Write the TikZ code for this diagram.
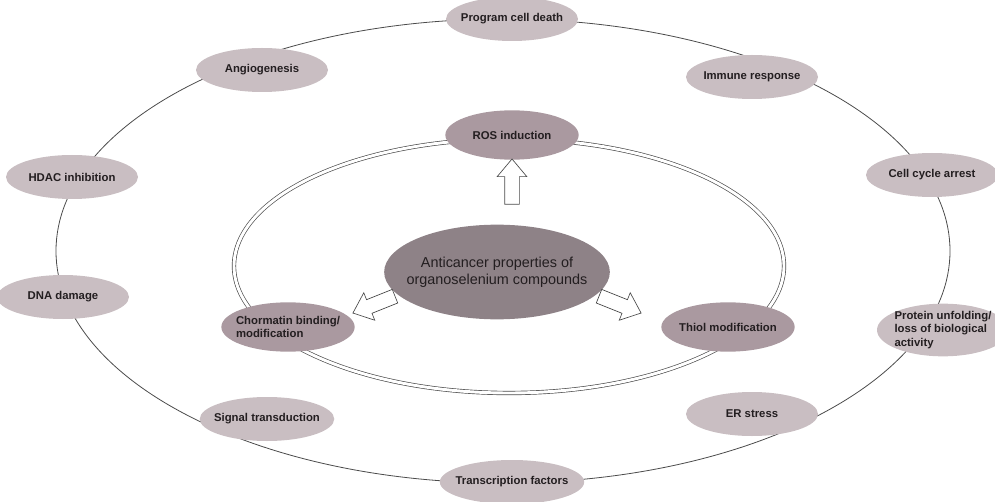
\documentclass[tikz,border=0pt]{standalone}
\usepackage{fontspec}
\setmainfont{Liberation Sans}
\usetikzlibrary{shapes.geometric,shapes.arrows}

\definecolor{outerfill}{RGB}{201,190,194}
\definecolor{innerfill}{RGB}{170,153,160}
\definecolor{corefill}{RGB}{142,130,135}
\definecolor{ringline}{RGB}{75,75,75}
\definecolor{labeltext}{RGB}{35,30,32}

\tikzset{
  outerbox/.style={ellipse, fill=outerfill, minimum width=99pt, minimum height=33pt,
    inner xsep=-4pt, inner ysep=0pt, text=labeltext, font=\bfseries\fontsize{8.5}{10}\selectfont},
  innerbox/.style={outerbox, fill=innerfill, minimum width=100pt, minimum height=37pt},
  corebox/.style={ellipse, fill=corefill, minimum width=169pt, minimum height=71pt,
    inner xsep=-8pt, inner ysep=0pt, text=labeltext, align=center, font=\fontsize{10.8}{13}\selectfont},
  blockarrow/.style={single arrow, draw=ringline, fill=white, line width=0.5pt,
    minimum height=34pt, inner sep=0pt, inner ysep=5.25pt,
    single arrow head extend=5.6pt, single arrow tip angle=80}
}

\begin{document}
\begin{tikzpicture}[x=0.75pt,y=-0.75pt]
  \useasboundingbox (0,0) rectangle (995,502);
  \draw [ringline, line width=0.6pt] (503,251) ellipse [x radius=447, y radius=232];
  \draw [ringline, line width=0.5pt, double=white, double distance=2.2pt] (509,266) ellipse [x radius=275, y radius=127];

  \node [outerbox] (pcd) at (512,19) {Program cell death};
  \node [outerbox] (angio) at (262,70) {Angiogenesis};
  \node [outerbox] (immune) at (752,77) {Immune response};
  \node [outerbox] (hdac) at (72,177) {HDAC inhibition};
  \node [outerbox] (cellcycle) at (932,175) {Cell cycle arrest};
  \node [outerbox] (dna) at (63,297) {DNA damage};
  \node [outerbox, align=left] (protein) at (943,330) {Protein unfolding/\\loss of biological\\activity};
  \node [outerbox] (signal) at (267,419) {Signal transduction};
  \node [outerbox] (er) at (752,414) {ER stress};
  \node [outerbox] (transcr) at (512,482) {Transcription factors};

  \node [innerbox] (ros) at (512,135) {ROS induction};
  \node [innerbox, align=left] (chromatin) at (288,327) {Chormatin binding/\\modification};
  \node [innerbox] (thiol) at (728,327) {Thiol modification};

  \node [corebox] (core) at (497,272) {Anticancer properties of\\organoselenium compounds};

  \node [blockarrow, rotate=90] (toros) at (512,186) {};
  \node [blockarrow, rotate=201.8] (tochromatin) at (378,303) {};
  \node [blockarrow, rotate=-21.8] (tothiol) at (616,303) {};
\end{tikzpicture}
\end{document}
